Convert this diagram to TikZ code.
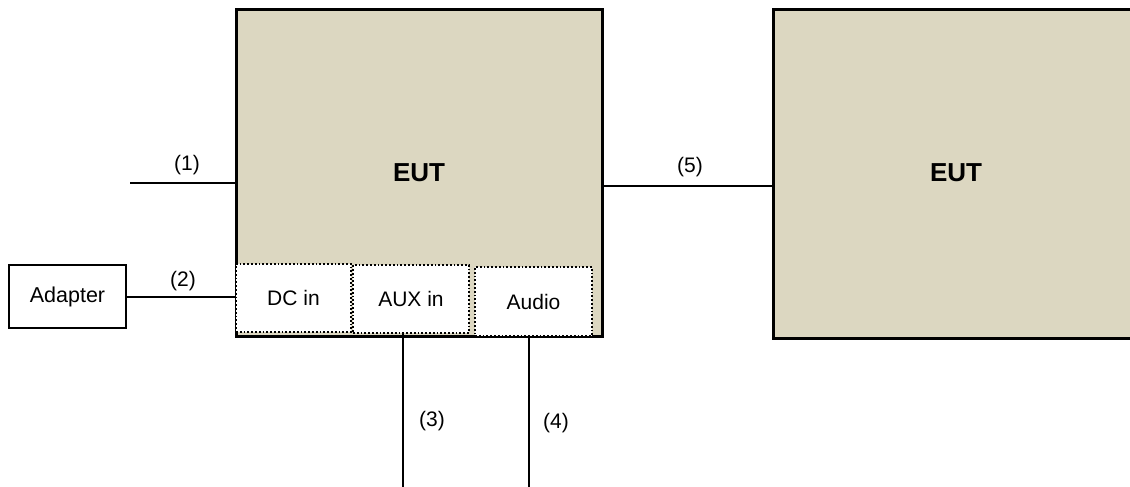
\documentclass[tikz,border=0pt]{standalone}
\usepackage{fontspec}
\setmainfont{Liberation Sans}
\definecolor{eutfill}{RGB}{220,215,193}
\tikzset{
  eutbox/.style={draw=black, line width=3pt, fill=eutfill, inner sep=0pt, outer sep=0pt},
  portbox/.style={draw=black, line width=1.8pt, dotted, fill=white, inner sep=0pt, outer sep=0pt, font=\fontsize{21}{24}\selectfont},
  adbox/.style={draw=black, line width=2.4pt, fill=white, inner sep=0pt, outer sep=0pt, font=\fontsize{21.5}{24}\selectfont},
  cable/.style={draw=black, line width=2.8pt},
  lbl/.style={inner sep=0pt, font=\fontsize{21}{24}\selectfont},
  eutlbl/.style={inner sep=0pt, font=\fontsize{26}{30}\selectfont\bfseries}
}
\begin{document}
\begin{tikzpicture}[x=1pt,y=-1pt]
\useasboundingbox (0,0) rectangle (1130,487);
% main EUT
\node[eutbox, minimum width=366pt, minimum height=326pt] (eut1) at (419,173) {};
\node[eutlbl] (eut1t) at (419,173) {EUT};
% second EUT
\node[eutbox, minimum width=420pt, minimum height=328pt] (eut2) at (983,174) {};
\node[eutlbl] (eut2t) at (956,173) {EUT};
% ports
\node[portbox, minimum width=115pt, minimum height=68pt] (dc) at (293.5,298) {DC in};
\node[portbox, minimum width=116pt, minimum height=68pt] (aux) at (411,299) {AUX in};
\node[portbox, minimum width=117pt, minimum height=69pt] (audio) at (533.5,301.5) {Audio};
% adapter
\node[adbox, minimum width=117pt, minimum height=63pt] (adapter) at (67.5,296.5) {Adapter};
% free ends
\coordinate (c1) at (130,183);
\coordinate (c3) at (403,487);
\coordinate (c4) at (529,487);
% cables
\draw[cable] (c1) -- (c1 -| eut1.west);
\draw[cable] (adapter.east |- 0,297) -- (dc.west |- 0,297);
\draw[cable] (c3 |- aux.south) -- (c3);
\draw[cable] (c4 |- audio.south) -- (c4);
\draw[cable] (eut1.east |- 0,186) -- (eut2.west |- 0,186);
% labels
\node[lbl] (l1) at (187,165) {(1)};
\node[lbl] (l2) at (183,281) {(2)};
\node[lbl] (l3) at (432,421) {(3)};
\node[lbl] (l4) at (556,423) {(4)};
\node[lbl] (l5) at (690,167) {(5)};
\end{tikzpicture}
\end{document}
